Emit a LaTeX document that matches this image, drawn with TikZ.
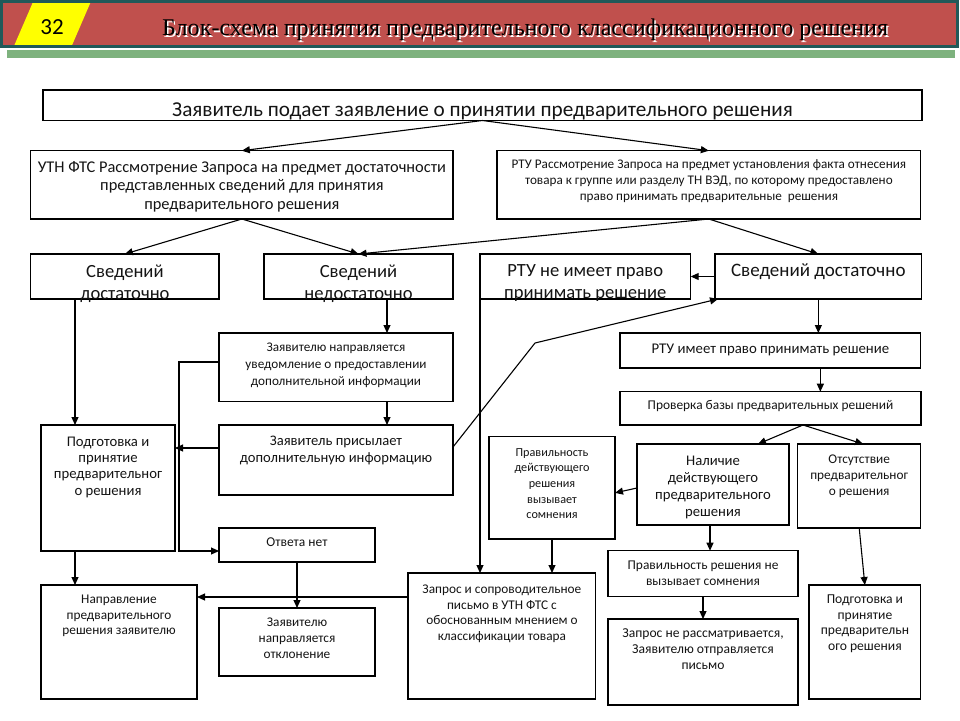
\documentclass[tikz,border=0pt]{standalone}
\usepackage{fontspec}
\usepackage{graphicx}
\setmainfont{Carlito}
\newfontfamily\titlefont{Liberation Serif}
\usetikzlibrary{arrows.meta,calc}
\definecolor{hdrred}{RGB}{192,80,77}
\definecolor{hdrteal}{RGB}{33,89,89}
\definecolor{hdrgreen}{RGB}{126,178,126}
\definecolor{hdryellow}{RGB}{255,255,0}
\definecolor{txtc}{RGB}{20,20,20}
\newcommand\bx[5]{%
 \pgfmathsetmacro\bxw{#4-#2}\pgfmathsetmacro\bxh{#5-#3}%
 \pgfmathsetmacro\bxcx{(#2+#4)/2}\pgfmathsetmacro\bxcy{(#3+#5)/2}%
 \node[bxs, minimum width=\bxw pt, minimum height=\bxh pt] (#1) at (\bxcx,\bxcy) {};}
\newcommand\tx[6]{%
 \pgfmathsetmacro\txy{#3-0.7*#5}%
 \node[txs, font=\fontsize{#4}{#5}\selectfont] (#1) at (#2,\txy) {\strut #6};}
\begin{document}
\begin{tikzpicture}[x=1pt,y=-1pt,
  bxs/.style={draw=black, line width=1.1pt, inner sep=0pt, outer sep=0pt},
  txs/.style={anchor=north, align=center, inner sep=0pt, text=txtc},
  arr/.style={line width=1.1pt, -{Triangle[length=8pt,width=7pt]}}]
\useasboundingbox (0,0) rectangle (960,720);
% header
\fill[hdrgreen] (7,49.5) rectangle (955,57.5);
\fill[hdrred] (1.5,1.5) rectangle (957,46.5);
\fill[hdryellow] (33,2) -- (90.7,2) -- (71.7,46) -- (14,46) -- cycle;
\draw[hdrteal, line width=3pt] (1.5,1.5) rectangle (957,46.5);
\node[anchor=base, inner sep=0pt, font=\fontsize{23}{27}\selectfont] (num) at (52,34) {32};
\node[anchor=base west, inner sep=0pt, text=white, font=\titlefont\fontsize{24}{28}\selectfont] (titsh) at (163.5,37.2) {\resizebox{726pt}{\height}{Блок-схема принятия предварительного классификационного решения}};
\node[anchor=base west, inner sep=0pt, text=black, font=\titlefont\fontsize{24}{28}\selectfont] (tit) at (162,35.7) {\resizebox{726pt}{\height}{Блок-схема принятия предварительного классификационного решения}};
% boxes
\bx{A}{43}{90}{922}{120.5}
\bx{B}{30.7}{150.7}{453}{219}
\bx{C}{497}{150.7}{920.7}{219}
\bx{D}{30.7}{254}{219}{299}
\bx{E}{264}{254}{453}{299}
\bx{F}{480}{254}{690.7}{299}
\bx{G}{715}{254}{921.7}{299}
\bx{H}{219}{333}{453}{401.7}
\bx{I}{219}{425}{453}{495}
\bx{J}{41}{425}{175}{551}
\bx{K}{219}{528}{375}{562}
\bx{L}{41}{585}{197}{699}
\bx{M}{219}{608}{375}{676}
\bx{N}{408}{573}{595.7}{699}
\bx{O}{489}{436.7}{615}{539}
\bx{P}{620}{333}{920.7}{368}
\bx{Q}{620}{391.7}{921}{425}
\bx{R}{637}{444}{789}{525}
\bx{S}{797.7}{444}{920.7}{528}
\bx{T}{608}{550.7}{798}{596.7}
\bx{U}{608}{619}{798}{705}
\bx{V}{809}{585}{920.7}{699}
% texts
\tx{At}{482.5}{116.7}{21.2}{24}{Заявитель подает заявление о принятии предварительного решения}
\tx{Bt}{241.9}{172.3}{16.4}{18.3}{УТН ФТС Рассмотрение Запроса на предмет достаточности\\представленных сведений для принятия\\предварительного решения}
\tx{Ct}{708.9}{168.3}{13.2}{16}{РТУ Рассмотрение Запроса на предмет установления факта отнесения\\товара к группе или разделу ТН ВЭД, по которому предоставлено\\право принимать предварительные\ \ решения}
\tx{Dt}{124.9}{277.7}{18.6}{21.3}{Сведений\\достаточно}
\tx{Et}{358.5}{277.7}{18.6}{21.3}{Сведений\\недостаточно}
\tx{Ft}{585.3}{276.7}{18.6}{21.3}{РТУ не имеет право\\принимать решение}
\tx{Gt}{818.3}{276.7}{19}{21.3}{Сведений достаточно}
\tx{Ht}{336}{351.7}{13.2}{17}{Заявителю направляется\\уведомление о предоставлении\\дополнительной информации}
\tx{It}{336}{445}{14.6}{17.7}{Заявитель присылает\\дополнительную информацию}
\tx{Jt}{108}{446}{14.7}{16.3}{Подготовка и\\принятие\\предварительног\\о решения}
\tx{Kt}{297}{546.7}{13.5}{16}{Ответа нет}
\tx{Lt}{119}{603.3}{13.3}{15.5}{Направление\\предварительного\\решения заявителю}
\tx{Mt}{297}{626}{13.3}{16}{Заявителю\\направляется\\отклонение}
\tx{Nt}{501.9}{593.3}{13.3}{15.7}{Запрос и сопроводительное\\письмо в УТН ФТС с\\обоснованным мнением о\\классификации товара}
\tx{Ot}{552}{456}{12.2}{15.6}{Правильность\\действующего\\решения\\вызывает\\сомнения}
\tx{Pt}{770.4}{353.3}{14.8}{18}{РТУ имеет право принимать решение}
\tx{Qt}{770.5}{409.3}{13.4}{16}{Проверка базы предварительных решений}
\tx{Rt}{713}{465}{14.7}{17}{Наличие\\действующего\\предварительного\\решения}
\tx{St}{859.2}{463.3}{13.3}{16}{Отсутствие\\предварительног\\о решения}
\tx{Tt}{703}{569}{13.4}{16}{Правильность решения не\\вызывает сомнения}
\tx{Ut}{703}{637.7}{13.6}{16}{Запрос не рассматривается,\\Заявителю отправляется\\письмо}
\tx{Vt}{864.9}{603.3}{13.6}{15.6}{Подготовка и\\принятие\\предварительн\\ого решения}
% connectors
\draw[arr] (A.south) -- (B.north);
\draw[arr] (A.south) -- (C.north);
\draw[arr] (B.south) -- (D.north);
\draw[arr] (B.south) -- (E.north);
\draw[arr] (C.south) -- (E.north);
\draw[arr] (C.south) -- (G.north);
\draw[arr] (G.west) -- (F.east);
\coordinate (ib) at (535,343);
\coordinate (gin) at ($(G.south west)+(3,0)$);
\draw[arr] ($(I.north east)+(0,22)$) -- (ib) -- (gin);
\draw[arr] (F.south west) -- (F.south west |- N.north);
\coordinate (d1) at ($(D.south west)+(44.3,0)$);
\draw[arr] (d1) -- (d1 |- J.north);
\coordinate (e1) at ($(E.south west)+(123,0)$);
\draw[arr] (e1) -- (e1 |- H.north);
\draw[arr] (e1 |- H.south) -- (e1 |- I.north);
\draw[arr] ($(I.north west)+(0,23)$) -- ($(J.north east)+(0,23)$);
\coordinate (h1) at ($(H.north west)+(0,29)$);
\draw[arr] (h1) -| ($(K.west)+(-40,6)$) -- ($(K.west)+(0,6)$);
\draw[arr] (d1 |- J.south) -- (d1 |- L.north);
\draw[arr] (K.south) -- (M.north);
\draw[arr] ($(N.north west)+(0,24)$) -- ($(L.north east)+(0,12)$);
\draw[arr] (G.south) -- (G.south |- P.north);
\draw[arr] ($(G.south |- P.south)+(2,0)$) coordinate (p1) -- (p1 |- Q.north);
\coordinate (q0) at ($(Q.south)+(32.5,0)$);
\draw[arr] (q0) -- ($(R.north)+(45,0)$);
\draw[arr] (q0) -- ($(S.north)+(4,0)$);
\draw[arr] ($(R.west)+(0,3.5)$) -- ($(O.east)+(0,5)$);
\draw[arr] (O.south) -- (O.south |- N.north);
\coordinate (r1) at ($(R.south)+(-3,0)$);
\draw[arr] (r1) -- (r1 |- T.north);
\draw[arr] (T.south) -- (U.north);
\draw[arr] (S.south) -- (V.north);
\end{tikzpicture}
\end{document}
